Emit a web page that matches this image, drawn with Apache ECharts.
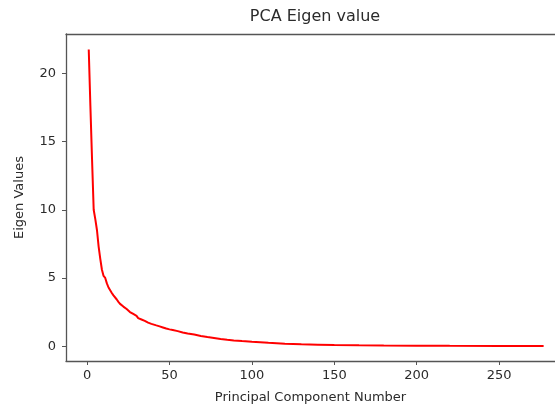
<!DOCTYPE html>
<html>
<head>
<meta charset="utf-8">
<script src="https://cdn.jsdelivr.net/npm/echarts@6/dist/echarts.min.js"></script>
<style>
html,body{margin:0;padding:0;background:#fff;}
#chart{width:555px;height:410px;}
</style>
</head>
<body>
<div id="chart"></div>
<script>
// Principal component numbers (x) and eigenvalues (y)
var componentNumbers = [1,2,3,4,5,6,7,8,9,10,11,12,13,14,15,16,17,18,19,20,21,22,23,24,25,26,27,28,29,30,31,32,33,34,35,36,37,38,39,40,42,44,46,48,50,52,55,58,61,65,69,73,77,81,85,89,94,100,105,110,115,120,130,140,150,165,180,200,220,250,277];
var eigenValues = [21.75,17.6,13.7,10.0,9.3,8.5,7.3,6.4,5.6,5.15,5.0,4.6,4.3,4.1,3.9,3.72,3.6,3.42,3.25,3.1,2.98,2.9,2.82,2.72,2.6,2.5,2.44,2.36,2.3,2.22,2.05,2.0,1.95,1.9,1.85,1.78,1.72,1.67,1.63,1.6,1.52,1.45,1.37,1.29,1.23,1.18,1.1,1.0,0.92,0.85,0.75,0.67,0.6,0.53,0.47,0.42,0.37,0.32,0.28,0.24,0.21,0.18,0.14,0.11,0.08,0.06,0.045,0.03,0.02,0.012,0.005];
var xTicks = [0,50,100,150,200,250];
var yTicks = [0,5,10,15,20];
var titleText = 'PCA Eigen value';
var xName = 'Principal Component Number';
var yName = 'Eigen Values';

var seriesData = componentNumbers.map(function(x,i){return [x, eigenValues[i]];});
var font = 'DejaVu Sans';
var textColor = '#2b2b2b';
var spine = '#555';

var chart = echarts.init(document.getElementById('chart'), null, {renderer:'canvas'});
chart.setOption({
  animation:false,
  backgroundColor:'#fff',
  title:{
    text:titleText, left:315, top:9, padding:0, textAlign:'center',
    textStyle:{fontFamily:font, fontSize:16, fontWeight:'normal', color:textColor}
  },
  grid:{left:66, right:0, top:34, bottom:49, show:false},
  xAxis:[{
    type:'value', min:-12.8, max:283.9, position:'bottom',
    name:xName, nameLocation:'middle', nameGap:30,
    nameTextStyle:{fontFamily:font, fontSize:13, color:textColor},
    axisLine:{show:true, onZero:false, lineStyle:{color:spine, width:1.3}},
    axisTick:{show:true, customValues:xTicks, length:4, lineStyle:{color:spine, width:1}},
    axisLabel:{customValues:xTicks, margin:8, fontFamily:font, fontSize:13, color:textColor},
    splitLine:{show:false}
  },{
    type:'value', min:-12.8, max:283.9, position:'top',
    axisLine:{show:true, onZero:false, lineStyle:{color:spine, width:1.3}},
    axisTick:{show:false}, axisLabel:{show:false}, splitLine:{show:false}
  }],
  yAxis:{
    type:'value', min:-1.09, max:22.89,
    name:yName, nameLocation:'middle', nameGap:40,
    nameTextStyle:{fontFamily:font, fontSize:13, color:textColor},
    axisLine:{show:true, onZero:false, lineStyle:{color:spine, width:1.3}},
    axisTick:{show:true, customValues:yTicks, length:4, lineStyle:{color:spine, width:1}},
    axisLabel:{customValues:yTicks, margin:10, fontFamily:font, fontSize:13, color:textColor},
    splitLine:{show:false}
  },
  series:[{
    type:'line', xAxisIndex:0, data:seriesData, showSymbol:false, symbol:'none',
    lineStyle:{color:'#ff0000', width:2}, smooth:false, clip:true
  }]
});
</script>
</body>
</html>
